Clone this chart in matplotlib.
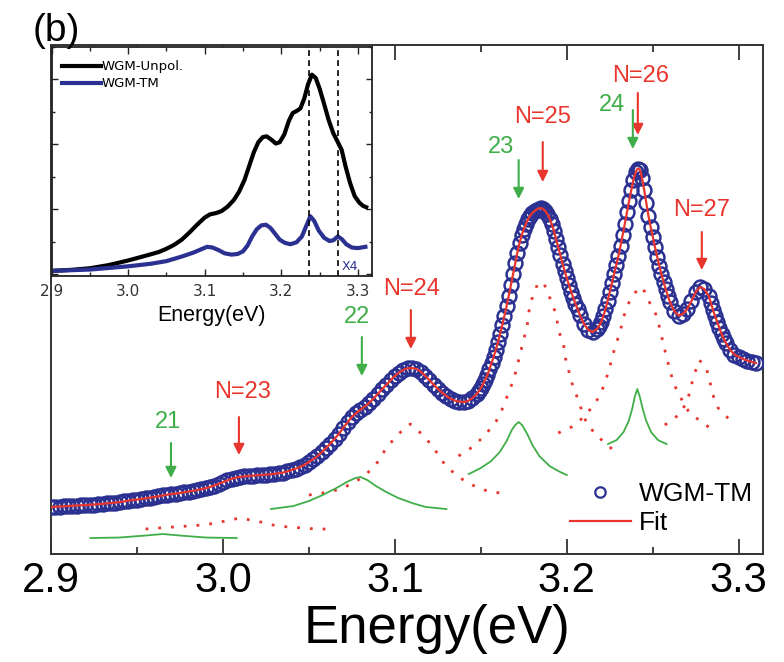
import matplotlib
matplotlib.use("Agg")
import matplotlib.pyplot as plt
from matplotlib.ticker import MultipleLocator, NullFormatter

plt.rcParams['font.family'] = ['Liberation Sans', 'DejaVu Sans']

# ---------------- main spectrum (WGM-TM) ----------------
energy = [2.9000, 2.9025, 2.9050, 2.9075, 2.9100, 2.9125, 2.9150, 2.9175, 2.9200, 2.9225,
          2.9250, 2.9275, 2.9300, 2.9325, 2.9350, 2.9375, 2.9400, 2.9425, 2.9450, 2.9475,
          2.9500, 2.9525, 2.9550, 2.9575, 2.9600, 2.9625, 2.9650, 2.9675, 2.9700, 2.9725,
          2.9750, 2.9775, 2.9800, 2.9825, 2.9850, 2.9875, 2.9900, 2.9925, 2.9950, 2.9975,
          3.0000, 3.0025, 3.0050, 3.0075, 3.0100, 3.0125, 3.0150, 3.0175, 3.0200, 3.0225,
          3.0250, 3.0275, 3.0300, 3.0325, 3.0350, 3.0375, 3.0400, 3.0425, 3.0450, 3.0475,
          3.0500, 3.0525, 3.0550, 3.0575, 3.0600, 3.0625, 3.0650, 3.0675, 3.0700, 3.0725,
          3.0750, 3.0775, 3.0800, 3.0825, 3.0850, 3.0875, 3.0900, 3.0925, 3.0950, 3.0975,
          3.1000, 3.1025, 3.1050, 3.1075, 3.1100, 3.1125, 3.1150, 3.1175, 3.1200, 3.1225,
          3.1250, 3.1275, 3.1300, 3.1325, 3.1350, 3.1375, 3.1400, 3.1425, 3.1450,
          3.14750, 3.14875, 3.15000, 3.15125, 3.15250, 3.15375,
          3.15500, 3.15625, 3.15750, 3.15875, 3.16000, 3.16125, 3.16250, 3.16375,
          3.16500, 3.16625, 3.16750, 3.16875, 3.17000, 3.17125, 3.17250, 3.17375,
          3.17500, 3.17625, 3.17750, 3.17875, 3.18000, 3.18125, 3.18250, 3.18375,
          3.18500, 3.18625, 3.18750, 3.18875, 3.19000, 3.19125, 3.19250, 3.19375,
          3.19500, 3.19625, 3.19750, 3.19875, 3.20000,
          3.20125, 3.20250, 3.20375, 3.20500, 3.20625, 3.20750, 3.21000, 3.21250, 3.21500,
          3.21750, 3.21875, 3.22000, 3.22125, 3.22250, 3.22375, 3.22500, 3.22625,
          3.22750, 3.22875, 3.23000, 3.23125, 3.23250, 3.23375, 3.23500, 3.23625,
          3.23750, 3.23875, 3.24000, 3.24125, 3.24250, 3.24375, 3.24500, 3.24625,
          3.24750, 3.24875, 3.25000, 3.25125, 3.25250, 3.25375, 3.25500, 3.25625,
          3.25750, 3.25875, 3.26000,
          3.2625, 3.2650, 3.2675, 3.2700, 3.2725, 3.2750, 3.2775, 3.2800,
          3.28250, 3.28375, 3.28500, 3.28625, 3.28750, 3.28875, 3.29000, 3.29125, 3.29250,
          3.2950, 3.2975, 3.3000, 3.3025, 3.3050, 3.3075, 3.3100]
tm_signal = [0.470, 0.472, 0.475, 0.477, 0.480, 0.482, 0.485, 0.487, 0.490, 0.492,
             0.495, 0.498, 0.502, 0.506, 0.510, 0.515, 0.520, 0.527, 0.534, 0.540,
             0.545, 0.550, 0.556, 0.563, 0.570, 0.578, 0.586, 0.593, 0.600, 0.605,
             0.610, 0.617, 0.625, 0.632, 0.640, 0.648, 0.658, 0.670, 0.685, 0.702,
             0.720, 0.737, 0.752, 0.764, 0.772, 0.777, 0.781, 0.784, 0.787, 0.790,
             0.793, 0.797, 0.802, 0.808, 0.815, 0.826, 0.840, 0.855, 0.872, 0.893,
             0.920, 0.948, 0.980, 1.018, 1.060, 1.105, 1.152, 1.205, 1.262, 1.318,
             1.370, 1.410, 1.442, 1.475, 1.510, 1.553, 1.600, 1.646, 1.692, 1.738,
             1.780, 1.815, 1.842, 1.858, 1.860, 1.850, 1.825, 1.785, 1.740, 1.695,
             1.652, 1.612, 1.580, 1.553, 1.535, 1.523, 1.520, 1.530, 1.558,
             1.600, 1.628, 1.660, 1.698, 1.740, 1.790,
             1.848, 1.910, 1.975, 2.045, 2.120, 2.203, 2.290, 2.383,
             2.480, 2.583, 2.690, 2.800, 2.910, 3.015, 3.110, 3.186,
             3.250, 3.303, 3.350, 3.385, 3.410, 3.430, 3.445, 3.455,
             3.460, 3.450, 3.430, 3.398, 3.355, 3.298, 3.230, 3.152,
             3.070, 2.987, 2.905, 2.830, 2.760,
             2.690, 2.625, 2.563, 2.505, 2.448, 2.395, 2.300, 2.240, 2.220,
             2.250, 2.280, 2.320, 2.380, 2.450, 2.532, 2.620, 2.710,
             2.800, 2.890, 2.980, 3.082, 3.190, 3.303, 3.420, 3.533,
             3.640, 3.740, 3.820, 3.855, 3.845, 3.760, 3.640, 3.508,
             3.380, 3.272, 3.170, 3.070, 2.975, 2.885, 2.800, 2.722,
             2.650, 2.583, 2.520,
             2.430, 2.385, 2.400, 2.450, 2.530, 2.620, 2.670, 2.650,
             2.580, 2.515, 2.440, 2.380, 2.320, 2.260, 2.200, 2.152, 2.110,
             2.040, 1.995, 1.970, 1.950, 1.935, 1.920, 1.910]
fit_signal = tm_signal

# ---------------- fitted components ----------------
n23_E = [2.955, 2.971, 2.988, 2.996, 3.004, 3.010, 3.016, 3.022, 3.029, 3.038, 3.047, 3.054, 3.063]
n23_v = [0.25, 0.27, 0.29, 0.31, 0.34, 0.36, 0.34, 0.32, 0.29, 0.27, 0.26, 0.25, 0.25]
n24_E = [3.050, 3.058, 3.066, 3.075, 3.083, 3.090, 3.095, 3.102, 3.109, 3.117,
         3.123, 3.128, 3.136, 3.145, 3.152, 3.161]
n24_v = [0.59, 0.61, 0.64, 0.70, 0.79, 0.92, 1.06, 1.20, 1.30, 1.18,
         1.05, 0.92, 0.78, 0.69, 0.64, 0.61]
n25_E = [3.137, 3.146, 3.153, 3.159, 3.163, 3.166, 3.169, 3.171, 3.173, 3.175,
         3.177, 3.178, 3.180, 3.183, 3.186, 3.188, 3.191, 3.194, 3.195, 3.198,
         3.199, 3.201, 3.203, 3.206, 3.209, 3.212, 3.219, 3.227]
n25_v = [0.98, 1.08, 1.20, 1.33, 1.47, 1.61, 1.74, 1.87, 2.01, 2.15,
         2.29, 2.43, 2.57, 2.70, 2.72, 2.66, 2.52, 2.39, 2.24, 2.11,
         1.97, 1.84, 1.71, 1.57, 1.42, 1.29, 1.16, 1.04]
n26_E = [3.195, 3.204, 3.211, 3.217, 3.221, 3.224, 3.226, 3.228, 3.231, 3.233,
         3.236, 3.240, 3.244, 3.248, 3.252, 3.254, 3.256, 3.258, 3.260, 3.262,
         3.266, 3.271, 3.279, 3.287]
n26_v = [1.21, 1.28, 1.39, 1.52, 1.66, 1.81, 1.94, 2.07, 2.22, 2.37,
         2.51, 2.62, 2.67, 2.52, 2.39, 2.26, 2.11, 1.97, 1.84, 1.71,
         1.57, 1.42, 1.31, 1.22]
n27_E = [3.257, 3.265, 3.270, 3.272, 3.274, 3.277, 3.281, 3.283, 3.285, 3.288, 3.296]
n27_v = [1.29, 1.39, 1.52, 1.66, 1.79, 1.94, 1.87, 1.74, 1.59, 1.46, 1.32]

g21_E = [2.923, 2.940, 2.955, 2.965, 2.975, 2.990, 3.008]
g21_v = [0.16, 0.165, 0.185, 0.20, 0.185, 0.165, 0.16]
g22_E = [3.028, 3.041, 3.050, 3.058, 3.066, 3.072, 3.077, 3.080, 3.084, 3.089,
         3.095, 3.102, 3.110, 3.118, 3.130]
g22_v = [0.45, 0.48, 0.53, 0.59, 0.66, 0.72, 0.76, 0.77, 0.74, 0.68,
         0.62, 0.56, 0.51, 0.47, 0.45]
g23_E = [3.143, 3.150, 3.156, 3.161, 3.165, 3.168, 3.170, 3.172, 3.174, 3.177,
         3.180, 3.184, 3.190, 3.195, 3.200]
g23_v = [0.80, 0.86, 0.93, 1.02, 1.13, 1.24, 1.29, 1.32, 1.29, 1.20,
         1.09, 0.98, 0.88, 0.83, 0.79]
g24_E = [3.224, 3.229, 3.233, 3.236, 3.238, 3.2395, 3.241, 3.2425, 3.244, 3.246,
         3.249, 3.253, 3.258]
g24_v = [1.10, 1.14, 1.22, 1.33, 1.45, 1.57, 1.65, 1.57, 1.46, 1.34,
         1.22, 1.14, 1.10]

# ---------------- mode labels ----------------
red_labels = ['N=23', 'N=24', 'N=25', 'N=26', 'N=27']
red_arrow_E = [3.0093, 3.1093, 3.1860, 3.2413, 3.2785]
red_tail_v = [1.37, 2.44, 4.12, 4.61, 3.22]
red_head_v = [0.99, 2.05, 3.72, 4.19, 2.84]
red_text_E = [3.0116, 3.1099, 3.1858, 3.2428, 3.2785]
red_text_v = [1.56, 2.59, 4.31, 4.72, 3.38]

green_labels = ['21', '22', '23', '24']
green_arrow_E = [2.9698, 3.0808, 3.1720, 3.2384]
green_tail_v = [1.11, 2.17, 3.94, 4.44]
green_head_v = [0.76, 1.78, 3.55, 4.05]
green_text_E = [2.9683, 3.0779, 3.1616, 3.2262]
green_text_v = [1.26, 2.31, 4.01, 4.43]

# ---------------- inset spectra ----------------
inset_E_unpol = [2.900, 2.925, 2.950, 2.975, 3.000, 3.025, 3.040, 3.050, 3.060, 3.070,
                 3.080, 3.090, 3.100, 3.107, 3.115, 3.122, 3.130, 3.138, 3.145, 3.152,
                 3.158, 3.164, 3.170, 3.176, 3.181, 3.187, 3.193, 3.198, 3.204, 3.210,
                 3.215, 3.220, 3.225, 3.230, 3.235, 3.240, 3.245, 3.250, 3.256, 3.262,
                 3.268, 3.274, 3.279, 3.284, 3.290, 3.296, 3.302, 3.307, 3.311]
inset_unpol = [0.05, 0.065, 0.09, 0.14, 0.21, 0.29, 0.34, 0.39, 0.45, 0.53,
               0.64, 0.76, 0.87, 0.92, 0.94, 0.97, 1.04, 1.14, 1.27, 1.45,
               1.66, 1.87, 2.03, 2.11, 2.12, 2.07, 2.01, 2.03, 2.15, 2.36,
               2.48, 2.51, 2.55, 2.70, 2.92, 3.07, 3.02, 2.86, 2.62, 2.37,
               2.17, 2.03, 1.91, 1.66, 1.40, 1.20, 1.10, 1.05, 1.03]
inset_E_tm = [2.900, 2.950, 3.000, 3.030, 3.050, 3.070, 3.085, 3.095, 3.103, 3.110,
              3.118, 3.126, 3.135, 3.143, 3.150, 3.156, 3.162, 3.168, 3.174, 3.180,
              3.186, 3.192, 3.198, 3.205, 3.212, 3.220, 3.227, 3.233, 3.238, 3.243,
              3.249, 3.256, 3.263, 3.268, 3.274, 3.279, 3.285, 3.292, 3.300, 3.310]
inset_tm = [0.05, 0.07, 0.12, 0.16, 0.20, 0.27, 0.33, 0.38, 0.42, 0.41,
            0.37, 0.32, 0.30, 0.31, 0.35, 0.44, 0.58, 0.69, 0.75, 0.76,
            0.71, 0.62, 0.53, 0.48, 0.46, 0.49, 0.58, 0.75, 0.89, 0.82,
            0.67, 0.56, 0.51, 0.52, 0.58, 0.54, 0.46, 0.41, 0.40, 0.42]
inset_marks_E = [3.236, 3.274]

RED = '#e8352d'
GREEN = '#3fae49'
BLUE = '#2b3191'

fig = plt.figure(figsize=(7.84, 6.62), dpi=100)
ax = fig.add_axes([0.065, 0.1631, 0.908, 0.7689])

for E, v in [(n23_E, n23_v), (n24_E, n24_v), (n25_E, n25_v), (n26_E, n26_v), (n27_E, n27_v)]:
    ax.plot(E, v, color=RED, lw=2.0, linestyle=(0, (1.0, 3.6)), zorder=2)
for E, v in [(g21_E, g21_v), (g22_E, g22_v), (g23_E, g23_v), (g24_E, g24_v)]:
    ax.plot(E, v, color=GREEN, lw=1.3, zorder=2)

data_line, = ax.plot(energy, tm_signal, linestyle='none', marker='o', markersize=10,
                     markerfacecolor='none', markeredgecolor=BLUE, markeredgewidth=1.8,
                     zorder=3, label='WGM-TM')
fit_line, = ax.plot(energy, fit_signal, color=RED, lw=1.6, zorder=4, label='Fit')

for lab, xe, vt, vh, te, tv in zip(red_labels, red_arrow_E, red_tail_v, red_head_v,
                                   red_text_E, red_text_v):
    ax.annotate('', xy=(xe, vh), xytext=(xe, vt),
                arrowprops=dict(arrowstyle='-|>', color=RED, lw=1.5,
                                mutation_scale=16, shrinkA=0, shrinkB=0), zorder=5)
    ax.text(te, tv, lab, color=RED, fontsize=17, ha='center', va='baseline', zorder=5)
for lab, xe, vt, vh, te, tv in zip(green_labels, green_arrow_E, green_tail_v, green_head_v,
                                   green_text_E, green_text_v):
    ax.annotate('', xy=(xe, vh), xytext=(xe, vt),
                arrowprops=dict(arrowstyle='-|>', color=GREEN, lw=1.5,
                                mutation_scale=16, shrinkA=0, shrinkB=0), zorder=5)
    ax.text(te, tv, lab, color=GREEN, fontsize=17, ha='center', va='baseline', zorder=5)

ax.set_xlim(2.9, 3.314)
ax.set_ylim(0, 5.09)
ax.xaxis.set_minor_locator(MultipleLocator(0.05))
ax.set_xticks([2.9, 3.0, 3.1, 3.2, 3.3])
ax.set_xticklabels(['2.9', '3.0', '3.1', '3.2', '3.3'])
ax.tick_params(axis='x', which='both', direction='in', top=True, labelsize=30, pad=5,
               color='#333333')
ax.tick_params(axis='x', which='major', length=11, width=1.3)
ax.tick_params(axis='x', which='minor', length=5, width=1.3)
ax.set_yticks([])
for s in ax.spines.values():
    s.set_linewidth(1.4)
    s.set_color('#333333')
ax.set_xlabel('Energy(eV)', fontsize=38, va='top')
ax.xaxis.set_label_coords(0.542, -0.098)

leg = ax.legend(handles=[data_line, fit_line], loc='upper left',
                bbox_to_anchor=(0.729, 0.142), frameon=False, fontsize=19,
                handlelength=2.3, handletextpad=0.3, labelspacing=0.2,
                borderpad=0, borderaxespad=0, numpoints=1)
leg.legend_handles[0].set_markersize(7.5)
leg.legend_handles[0].set_markeredgewidth(1.6)

fig.text(0.042, 0.938, '(b)', fontsize=28, ha='left', va='baseline')

# ---------------- inset ----------------
ins = fig.add_axes([0.0659, 0.583, 0.408, 0.3464])
ins.set_facecolor('white')
ins.plot(inset_E_unpol, inset_unpol, color='black', lw=3.0, label='WGM-Unpol.')
ins.plot(inset_E_tm, inset_tm, color=BLUE, lw=3.0, label='WGM-TM')
for xm in inset_marks_E:
    ins.axvline(xm, color='black', lw=1.2, linestyle=(0, (3.5, 2.5)))
ins.text(3.2896, 0.06, 'X4', color=BLUE, fontsize=9, ha='center', va='baseline',
         family=['DejaVu Sans'])
ins.set_xlim(2.9, 3.318)
ins.set_ylim(-0.03, 3.50)
ins.xaxis.set_minor_locator(MultipleLocator(0.05))
ins.set_xticks([2.9, 3.0, 3.1, 3.2, 3.3])
ins.set_xticklabels(['2.9', '3.0', '3.1', '3.2', '3.3'], family=['DejaVu Sans'])
ins.yaxis.set_major_locator(MultipleLocator(1.0))
ins.yaxis.set_minor_locator(MultipleLocator(0.5))
ins.yaxis.set_major_formatter(NullFormatter())
ins.tick_params(which='both', direction='in', top=True, right=True, labelsize=11,
                color='#222222', labelcolor='#333333')
ins.tick_params(axis='x', which='major', length=5, width=1.0, pad=6)
ins.tick_params(axis='x', which='minor', length=3, width=1.0)
ins.tick_params(axis='y', which='major', length=4, width=1.0)
ins.tick_params(axis='y', which='minor', length=2.5, width=1.0)
for s in ins.spines.values():
    s.set_linewidth(1.3)
    s.set_color('#222222')
ins.set_xlabel('Energy(eV)', fontsize=15.5, labelpad=4)
ins.legend(loc='upper left', bbox_to_anchor=(0.032, 0.94), frameon=False,
           handlelength=3.0, handletextpad=0.0, labelspacing=0.3, borderpad=0,
           borderaxespad=0, prop={'family': ['DejaVu Sans'], 'size': 9.5})

fig.savefig('out.png', dpi=100)
